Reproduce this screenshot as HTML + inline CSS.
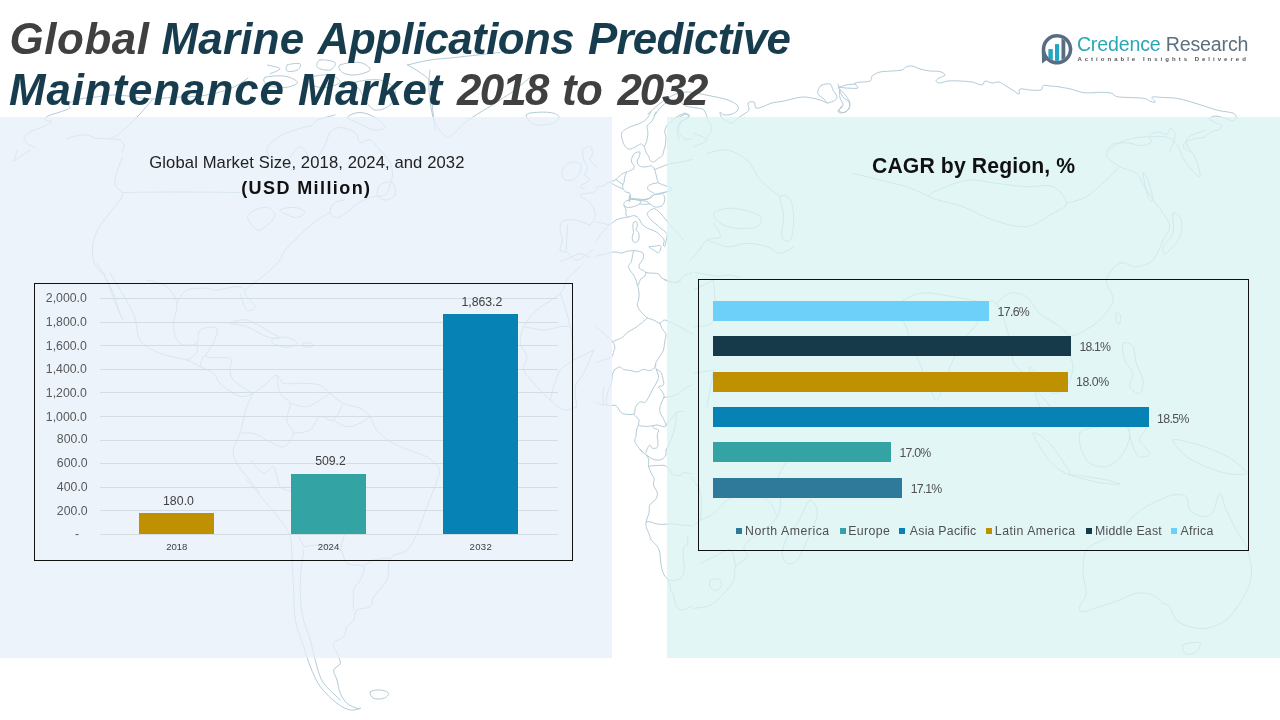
<!DOCTYPE html>
<html><head><meta charset="utf-8">
<style>
html,body{margin:0;padding:0;background:#fff;}
body{width:1280px;height:720px;position:relative;overflow:hidden;font-family:"Liberation Sans",sans-serif;}
.abs{position:absolute;}
#pl{left:0;top:117px;width:612px;height:541px;background:rgba(230,239,250,0.75);}
#pr{left:667px;top:117px;width:613px;height:541px;background:rgba(216,243,243,0.75);}
.tw{position:absolute;font-size:43.9px;line-height:51.2px;font-weight:bold;font-style:italic;color:#173c4e;white-space:nowrap;}
.tw.g{color:#404040;}
.t{position:absolute;white-space:nowrap;}
.c{transform:translateX(-50%);}
.ax{font-size:12.3px;color:#595959;}
.bar{position:absolute;}
.grid{position:absolute;left:100px;width:458px;height:1px;background:#d3dde2;}
.box{position:absolute;border:1.5px solid #111;box-sizing:border-box;}
</style></head><body>
<svg class="abs" id="map" style="left:0;top:0" width="1280" height="720" viewBox="0 0 1280 720"><path id="mappath" d="M13.8 161.2 L30.0 150.0 M122.5 157.5C121.7 159.6 118.8 165.4 117.5 170.0C116.2 174.6 114.2 180.8 115.0 185.0C115.8 189.2 123.3 190.4 122.5 195.0C121.7 199.6 114.2 206.7 110.0 212.5C105.8 218.3 100.4 224.2 97.5 230.0C94.6 235.8 92.9 241.7 92.5 247.5C92.1 253.3 92.9 260.4 95.0 265.0C97.1 269.6 103.3 273.3 105.0 275.0 M17.5 150.0 L13.8 161.2 M122.5 192.5C131.2 192.4 155.4 192.0 175.0 192.0C194.6 192.0 229.2 192.4 240.0 192.5 M96.7 263.3C98.3 266.1 103.3 272.8 106.7 280.0C110.0 287.2 113.9 300.0 116.7 306.7C119.4 313.3 122.8 318.9 123.3 320.0C123.9 321.1 121.7 317.8 120.0 313.3C118.3 308.9 116.1 300.0 113.3 293.3C110.6 286.7 105.0 276.7 103.3 273.3 M110.0 273.3C113.9 280.0 128.3 302.2 133.3 313.3C138.3 324.4 135.6 333.3 140.0 340.0C144.4 346.7 152.2 350.0 160.0 353.3C167.8 356.7 180.0 357.8 186.7 360.0C193.3 362.2 195.6 364.4 200.0 366.7C204.4 368.9 210.0 370.6 213.3 373.3C216.7 376.1 216.7 380.0 220.0 383.3C223.3 386.7 229.4 391.1 233.3 393.3C237.2 395.6 240.0 396.7 243.3 396.7C246.7 396.7 251.7 393.9 253.3 393.3 M146.7 280.0C150.0 281.1 161.7 282.8 166.7 286.7C171.7 290.6 175.6 296.7 176.7 303.3C177.8 310.0 172.8 320.0 173.3 326.7C173.9 333.3 176.1 340.6 180.0 343.3C183.9 346.1 193.3 345.6 196.7 343.3C200.0 341.1 196.7 332.5 200.0 330.0C203.3 327.5 214.4 326.1 216.7 328.3C218.9 330.6 215.0 338.6 213.3 343.3C211.7 348.1 203.9 354.2 206.7 356.7C209.4 359.2 226.1 356.1 230.0 358.3C233.9 360.6 229.4 366.4 230.0 370.0C230.6 373.6 230.6 376.7 233.3 380.0C236.1 383.3 243.3 387.8 246.7 390.0C250.0 392.2 252.2 392.8 253.3 393.3 M176.7 303.3C178.3 301.1 181.7 292.5 186.7 290.0C191.7 287.5 201.7 288.3 206.7 288.3C211.7 288.3 211.1 290.3 216.7 290.0C222.2 289.7 235.0 285.6 240.0 286.7C245.0 287.8 244.2 293.3 246.7 296.7C249.2 300.0 255.0 304.4 255.0 306.7C255.0 308.9 249.2 312.2 246.7 310.0C244.2 307.8 241.1 296.1 240.0 293.3 M230.0 323.3C230.0 322.2 240.6 318.9 246.7 320.0C252.8 321.1 261.1 326.9 266.7 330.0C272.2 333.1 280.0 337.2 280.0 338.3C280.0 339.4 272.2 338.6 266.7 336.7C261.1 334.7 252.8 328.9 246.7 326.7C240.6 324.4 230.0 324.4 230.0 323.3Z M273.3 338.3C275.6 337.3 282.8 336.5 286.7 337.3C290.6 338.2 296.7 341.7 296.7 343.3C296.7 345.0 290.6 347.3 286.7 347.3C282.8 347.3 275.6 344.8 273.3 343.3C271.1 341.8 271.1 339.3 273.3 338.3Z M303.3 343.3C304.7 342.8 310.3 342.8 311.7 343.3C313.1 343.9 313.1 346.1 311.7 346.7C310.3 347.2 304.7 347.2 303.3 346.7C301.9 346.1 301.9 343.9 303.3 343.3Z M253.3 393.3C255.6 391.7 262.8 386.4 266.7 383.3C270.6 380.3 273.9 375.0 276.7 375.0C279.4 375.0 279.4 381.9 283.3 383.3C287.2 384.7 293.9 383.1 300.0 383.3C306.1 383.6 315.0 383.3 320.0 385.0C325.0 386.7 326.1 390.3 330.0 393.3C333.9 396.4 338.3 400.8 343.3 403.3C348.3 405.8 355.6 406.1 360.0 408.3C364.4 410.6 367.2 413.1 370.0 416.7C372.8 420.3 372.8 425.6 376.7 430.0C380.6 434.4 385.0 438.9 393.3 443.3C401.7 447.8 421.1 454.4 426.7 456.7 M253.3 393.3C252.2 395.6 248.3 402.2 246.7 406.7C245.0 411.1 244.4 415.6 243.3 420.0C242.2 424.4 241.7 428.3 240.0 433.3C238.3 438.3 233.9 445.0 233.3 450.0C232.8 455.0 234.4 458.9 236.7 463.3C238.9 467.8 242.8 471.7 246.7 476.7C250.6 481.7 257.8 490.6 260.0 493.3 M276.7 375.0C277.2 378.1 277.8 388.6 280.0 393.3C282.2 398.1 288.9 398.9 290.0 403.3C291.1 407.8 286.1 415.0 286.7 420.0C287.2 425.0 293.9 428.9 293.3 433.3C292.8 437.8 287.8 445.6 283.3 446.7C278.9 447.8 271.7 442.2 266.7 440.0C261.7 437.8 257.8 434.4 253.3 433.3C248.9 432.2 242.2 433.3 240.0 433.3 M290.0 403.3C292.8 403.9 301.7 407.2 306.7 406.7C311.7 406.1 316.1 402.2 320.0 400.0C323.9 397.8 328.3 394.4 330.0 393.3 M293.3 433.3C296.1 432.8 305.6 432.8 310.0 430.0C314.4 427.2 316.1 418.3 320.0 416.7C323.9 415.0 329.4 422.2 333.3 420.0C337.2 417.8 341.7 406.1 343.3 403.3 M333.3 420.0C335.6 421.1 342.2 426.1 346.7 426.7C351.1 427.2 356.1 425.0 360.0 423.3C363.9 421.7 368.3 417.8 370.0 416.7 M200.0 366.7C200.6 365.0 202.2 358.3 203.3 356.7C204.4 355.0 206.1 356.7 206.7 356.7 M186.7 360.0C188.3 358.9 195.0 356.1 196.7 353.3C198.3 350.6 196.7 345.0 196.7 343.3 M247.0 480.0C249.8 483.3 258.1 493.3 263.7 500.0C269.2 506.7 275.9 513.9 280.3 520.0C284.8 526.1 288.4 530.0 290.3 536.7C292.3 543.3 291.4 551.1 292.0 560.0C292.6 568.9 293.1 580.0 293.7 590.0C294.2 600.0 293.7 610.6 295.3 620.0C297.0 629.4 301.2 638.9 303.7 646.7C306.2 654.4 307.6 660.0 310.3 666.7C313.1 673.3 315.9 680.6 320.3 686.7C324.8 692.8 332.0 699.4 337.0 703.3C342.0 707.2 346.4 709.2 350.3 710.0C354.2 710.8 358.7 708.6 360.3 708.3 M303.7 550.0C303.1 555.0 300.6 569.4 300.3 580.0C300.1 590.6 300.3 603.3 302.0 613.3C303.7 623.3 307.8 631.1 310.3 640.0C312.8 648.9 314.8 659.4 317.0 666.7C319.2 673.9 319.8 677.8 323.7 683.3C327.6 688.9 337.6 697.2 340.3 700.0 M427.0 456.7C428.4 457.8 433.2 461.1 435.3 463.3C437.4 465.6 439.3 467.5 439.7 470.0C440.1 472.5 438.7 475.0 437.7 478.3C436.7 481.7 435.4 485.3 433.7 490.0C431.9 494.7 429.8 499.4 427.0 506.7C424.2 513.9 420.3 526.1 417.0 533.3C413.7 540.6 411.4 545.8 407.0 550.0C402.6 554.2 393.7 553.3 390.3 558.3C387.0 563.3 389.8 573.6 387.0 580.0C384.2 586.4 376.4 592.2 373.7 596.7C370.9 601.1 373.1 604.4 370.3 606.7C367.6 608.9 359.8 607.8 357.0 610.0C354.2 612.2 355.3 617.2 353.7 620.0C352.0 622.8 348.7 623.9 347.0 626.7C345.3 629.4 345.9 633.9 343.7 636.7C341.4 639.4 334.8 640.6 333.7 643.3C332.6 646.1 335.9 650.0 337.0 653.3C338.1 656.7 340.9 660.6 340.3 663.3C339.8 666.1 334.2 667.2 333.7 670.0C333.1 672.8 335.9 676.1 337.0 680.0C338.1 683.9 338.7 689.4 340.3 693.3C342.0 697.2 344.2 700.8 347.0 703.3C349.8 705.8 354.8 707.5 357.0 708.3C359.2 709.2 359.8 708.3 360.3 708.3 M303.7 546.7C307.0 546.4 317.6 544.4 323.7 545.0C329.8 545.6 336.4 546.9 340.3 550.0C344.2 553.1 343.1 560.6 347.0 563.3C350.9 566.1 361.4 563.9 363.7 566.7C365.9 569.4 362.0 576.1 360.3 580.0C358.7 583.9 354.8 585.0 353.7 590.0C352.6 595.0 353.7 606.7 353.7 610.0 M390.3 558.3C387.6 558.6 378.1 558.6 373.7 560.0C369.2 561.4 365.3 565.6 363.7 566.7 M303.7 546.7C302.6 543.9 297.6 536.1 297.0 530.0C296.4 523.9 300.9 516.1 300.3 510.0C299.8 503.9 297.0 497.2 293.7 493.3C290.3 489.4 283.7 491.1 280.3 486.7C277.0 482.2 276.4 468.9 273.7 466.7C270.9 464.4 267.6 474.4 263.7 473.3C259.8 472.2 252.6 462.2 250.3 460.0 M340.3 550.0C341.4 546.7 343.7 535.0 347.0 530.0C350.3 525.0 358.1 525.0 360.3 520.0C362.6 515.0 363.7 505.0 360.3 500.0C357.0 495.0 347.0 492.2 340.3 490.0C333.7 487.8 325.9 488.9 320.3 486.7C314.8 484.4 311.4 475.6 307.0 476.7C302.6 477.8 295.9 490.6 293.7 493.3 M370.3 691.7C371.4 690.3 377.3 689.7 380.3 690.0C383.4 690.3 388.1 691.9 388.7 693.3C389.2 694.7 386.2 697.5 383.7 698.3C381.2 699.2 375.9 699.4 373.7 698.3C371.4 697.2 369.2 693.1 370.3 691.7Z M430.0 70.0C429.8 72.5 428.8 80.0 428.8 85.0C428.8 90.0 429.4 95.0 430.0 100.0C430.6 105.0 431.2 110.4 432.5 115.0C433.8 119.6 435.0 123.8 437.5 127.5C440.0 131.2 444.6 136.7 447.5 137.5C450.4 138.3 452.1 135.0 455.0 132.5C457.9 130.0 460.8 125.8 465.0 122.5C469.2 119.2 475.4 115.4 480.0 112.5C484.6 109.6 489.2 107.1 492.5 105.0C495.8 102.9 496.2 102.5 500.0 100.0C503.8 97.5 510.0 93.8 515.0 90.0C520.0 86.2 527.5 79.6 530.0 77.5 M526.2 115.0C526.7 113.1 531.0 112.9 535.0 112.5C539.0 112.1 546.0 111.9 550.0 112.5C554.0 113.1 557.9 114.6 558.8 116.2C559.6 117.9 557.7 121.0 555.0 122.5C552.3 124.0 546.2 124.8 542.5 125.0C538.8 125.2 535.2 125.4 532.5 123.8C529.8 122.1 525.8 116.9 526.2 115.0Z M562.5 170.0C563.5 167.3 567.1 163.5 570.0 162.5C572.9 161.5 578.3 162.1 580.0 163.8C581.7 165.4 581.2 169.8 580.0 172.5C578.8 175.2 575.2 179.0 572.5 180.0C569.8 181.0 565.4 180.4 563.8 178.8C562.1 177.1 561.5 172.7 562.5 170.0Z M582.5 150.0C583.8 149.4 588.3 145.6 590.0 146.2C591.7 146.9 592.5 151.5 592.5 153.8C592.5 156.0 589.2 157.7 590.0 160.0C590.8 162.3 596.2 166.2 597.5 167.5 M585.0 188.8C584.2 188.3 579.2 187.7 580.0 186.2C580.8 184.8 589.2 181.9 590.0 180.0C590.8 178.1 585.4 177.1 585.0 175.0C584.6 172.9 587.7 170.0 587.5 167.5C587.3 165.0 584.6 162.9 583.8 160.0C582.9 157.1 582.7 151.7 582.5 150.0 M590.0 225.0C590.6 224.2 592.9 222.1 593.8 220.0C594.6 217.9 595.6 215.4 595.0 212.5C594.4 209.6 592.5 205.4 590.0 202.5C587.5 199.6 579.6 196.7 580.0 195.0C580.4 193.3 589.6 193.5 592.5 192.5C595.4 191.5 596.7 189.4 597.5 188.8 M590.0 225.0C587.5 224.2 579.6 220.6 575.0 220.0C570.4 219.4 565.0 219.6 562.5 221.2C560.0 222.9 560.0 226.9 560.0 230.0C560.0 233.1 562.5 236.7 562.5 240.0C562.5 243.3 559.2 247.9 560.0 250.0C560.8 252.1 565.0 250.8 567.5 252.5C570.0 254.2 572.5 259.2 575.0 260.0C577.5 260.8 579.6 259.2 582.5 257.5C585.4 255.8 590.8 251.2 592.5 250.0 M567.5 225.0 L566.2 250.0 M560.0 261.2C561.7 260.6 566.7 258.8 570.0 257.5C573.3 256.2 576.7 253.8 580.0 253.8C583.3 253.8 588.3 256.9 590.0 257.5 M695.0 272.5C696.2 272.7 698.8 273.1 702.5 273.8C706.2 274.4 712.9 276.0 717.5 276.2C722.1 276.5 726.2 274.8 730.0 275.0C733.8 275.2 738.3 277.1 740.0 277.5 M693.7 290.0 L713.7 280.0 M593.7 350.0 L573.7 360.0 M583.7 263.3C580.9 266.1 570.9 275.0 567.0 280.0C563.1 285.0 565.3 288.3 560.3 293.3C555.3 298.3 543.1 304.4 537.0 310.0C530.9 315.6 526.4 321.1 523.7 326.7C520.9 332.2 519.8 338.3 520.3 343.3C520.9 348.3 526.4 352.2 527.0 356.7C527.6 361.1 522.0 365.0 523.7 370.0C525.3 375.0 532.6 381.7 537.0 386.7C541.4 391.7 545.9 396.1 550.3 400.0C554.8 403.9 559.2 408.9 563.7 410.0C568.1 411.1 574.8 407.2 577.0 406.7 M573.7 360.0C571.4 361.7 563.7 365.6 560.3 370.0C557.0 374.4 555.3 381.7 553.7 386.7C552.0 391.7 550.9 397.8 550.3 400.0 M573.7 360.0C573.1 354.4 572.6 337.8 570.3 326.7C568.1 315.6 562.0 298.9 560.3 293.3 M523.7 326.7C527.0 327.2 537.6 330.0 543.7 330.0C549.8 330.0 555.9 327.2 560.3 326.7C564.8 326.1 568.7 326.7 570.3 326.7 M577.0 406.7C576.7 403.3 574.2 392.2 575.3 386.7C576.4 381.1 580.6 379.4 583.7 373.3C586.7 367.2 592.0 353.9 593.7 350.0 M693.7 326.7C697.0 325.6 710.3 327.8 713.7 320.0C717.0 312.2 713.7 286.7 713.7 280.0 M693.7 373.3 L713.7 370.0 M707.0 406.7 L713.7 370.0 M694.0 608.3C696.8 607.8 705.7 607.5 710.7 605.0C715.7 602.5 720.1 597.5 724.0 593.3C727.9 589.2 732.1 584.4 734.0 580.0C735.9 575.6 733.4 570.6 735.7 566.7C737.9 562.8 745.9 560.0 747.3 556.7C748.7 553.3 742.9 550.0 744.0 546.7C745.1 543.3 750.1 540.0 754.0 536.7C757.9 533.3 763.4 530.0 767.3 526.7C771.2 523.3 775.1 521.1 777.3 516.7C779.6 512.2 780.7 506.1 780.7 500.0C780.7 493.9 776.2 486.7 777.3 480.0C778.4 473.3 785.7 463.3 787.3 460.0 M694.0 525.0 L700.7 520.0 M700.7 563.3C702.9 562.2 709.0 558.9 714.0 556.7C719.0 554.4 727.1 548.3 730.7 550.0C734.3 551.7 734.8 563.9 735.7 566.7 M710.7 580.0C712.2 578.8 717.2 578.3 719.0 579.3C720.8 580.3 721.9 584.1 721.3 586.0C720.8 587.9 717.6 590.6 715.7 590.7C713.8 590.8 710.8 588.4 710.0 586.7C709.2 584.9 709.2 581.2 710.7 580.0Z M810.7 500.0C812.9 500.6 817.9 506.7 817.3 513.3C816.8 520.0 810.7 532.2 807.3 540.0C804.0 547.8 800.7 556.1 797.3 560.0C794.0 563.9 789.8 564.4 787.3 563.3C784.8 562.2 782.3 557.8 782.3 553.3C782.3 548.9 784.8 541.7 787.3 536.7C789.8 531.7 794.6 527.8 797.3 523.3C800.1 518.9 801.8 513.9 804.0 510.0C806.2 506.1 808.4 499.4 810.7 500.0Z M700.7 520.0C702.9 518.9 709.6 516.7 714.0 513.3C718.4 510.0 721.8 503.3 727.3 500.0C732.9 496.7 740.7 493.3 747.3 493.3C754.0 493.3 762.3 496.1 767.3 500.0C772.3 503.9 775.7 513.9 777.3 516.7 M690.7 476.7C692.3 479.4 699.0 486.1 700.7 493.3C702.3 500.6 700.7 515.6 700.7 520.0 M693.7 133.3C695.9 134.4 707.0 137.8 707.0 140.0C707.0 142.2 695.9 145.6 693.7 146.7 M713.7 213.3C714.8 210.8 722.0 208.9 727.0 208.3C732.0 207.8 738.1 208.6 743.7 210.0C749.2 211.4 758.1 213.9 760.3 216.7C762.6 219.4 760.9 224.7 757.0 226.7C753.1 228.6 743.1 228.9 737.0 228.3C730.9 227.8 724.2 225.8 720.3 223.3C716.4 220.8 712.6 215.8 713.7 213.3Z M780.3 196.7C781.4 193.9 788.1 196.1 790.3 200.0C792.6 203.9 793.7 213.3 793.7 220.0C793.7 226.7 792.3 237.2 790.3 240.0C788.4 242.8 783.1 240.6 782.0 236.7C780.9 232.8 783.9 223.3 783.7 216.7C783.4 210.0 779.2 199.4 780.3 196.7Z M707.0 153.3C710.3 152.8 720.3 148.9 727.0 150.0C733.7 151.1 741.4 155.0 747.0 160.0C752.6 165.0 754.8 173.9 760.3 180.0C765.9 186.1 777.0 193.9 780.3 196.7 M690.3 260.0C691.4 258.9 694.2 256.7 697.0 253.3C699.8 250.0 703.1 242.8 707.0 240.0C710.9 237.2 719.2 239.4 720.3 236.7C721.4 233.9 714.8 225.6 713.7 223.3 M707.0 240.0C710.3 241.1 720.3 246.1 727.0 246.7C733.7 247.2 740.3 243.3 747.0 243.3C753.7 243.3 761.4 245.0 767.0 246.7C772.6 248.3 775.9 253.3 780.3 253.3C784.8 253.3 791.4 247.8 793.7 246.7 M1206.3 130.0C1203.0 131.7 1188.0 135.0 1186.3 140.0C1184.7 145.0 1194.1 153.9 1196.3 160.0C1198.6 166.1 1201.3 176.1 1199.7 176.7C1198.0 177.2 1190.8 169.4 1186.3 163.3C1181.9 157.2 1178.6 144.4 1173.0 140.0C1167.4 135.6 1160.8 136.7 1153.0 136.7C1145.2 136.7 1134.1 137.2 1126.3 140.0C1118.6 142.8 1107.4 148.9 1106.3 153.3C1105.2 157.8 1114.7 163.3 1119.7 166.7C1124.7 170.0 1131.9 169.4 1136.3 173.3C1140.8 177.2 1141.9 183.3 1146.3 190.0C1150.8 196.7 1159.1 207.2 1163.0 213.3C1166.9 219.4 1169.7 222.2 1169.7 226.7C1169.7 231.1 1164.1 237.8 1163.0 240.0 M1143.0 173.3C1143.0 170.6 1146.3 175.6 1148.0 180.0C1149.7 184.4 1153.0 197.2 1153.0 200.0C1153.0 202.8 1149.7 201.1 1148.0 196.7C1146.3 192.2 1143.0 176.1 1143.0 173.3Z M1173.0 213.3C1174.4 211.1 1180.2 216.1 1181.3 220.0C1182.4 223.9 1182.2 231.1 1179.7 236.7C1177.2 242.2 1169.1 251.7 1166.3 253.3C1163.6 255.0 1161.9 250.0 1163.0 246.7C1164.1 243.3 1171.3 238.9 1173.0 233.3C1174.7 227.8 1171.6 215.6 1173.0 213.3Z M929.7 196.7C932.4 200.0 952.4 202.8 963.0 206.7C973.6 210.6 982.4 216.7 993.0 220.0C1003.6 223.3 1016.3 227.8 1026.3 226.7C1036.3 225.6 1046.3 217.2 1053.0 213.3C1059.7 209.4 1066.3 207.8 1066.3 203.3C1066.3 198.9 1059.7 189.4 1053.0 186.7C1046.3 183.9 1035.8 187.2 1026.3 186.7C1016.9 186.1 1005.8 184.4 996.3 183.3C986.9 182.2 978.0 179.4 969.7 180.0C961.3 180.6 953.0 183.9 946.3 186.7C939.7 189.4 926.9 193.3 929.7 196.7Z M853.0 173.3C857.4 174.4 870.8 177.8 879.7 180.0C888.6 182.2 898.0 183.9 906.3 186.7C914.7 189.4 925.8 195.0 929.7 196.7 M1066.3 203.3C1069.7 202.2 1079.7 200.6 1086.3 196.7C1093.0 192.8 1100.8 185.0 1106.3 180.0C1111.9 175.0 1117.4 168.9 1119.7 166.7 M1163.0 240.0C1161.3 243.3 1157.4 255.6 1153.0 260.0C1148.6 264.4 1141.9 266.1 1136.3 266.7C1130.8 267.2 1124.7 261.1 1119.7 263.3C1114.7 265.6 1107.4 273.9 1106.3 280.0C1105.2 286.1 1114.1 293.3 1113.0 300.0C1111.9 306.7 1105.2 314.4 1099.7 320.0C1094.1 325.6 1084.7 330.6 1079.7 333.3C1074.7 336.1 1071.9 334.4 1069.7 336.7C1067.4 338.9 1065.8 341.7 1066.3 346.7C1066.9 351.7 1073.0 360.0 1073.0 366.7C1073.0 373.3 1069.7 382.2 1066.3 386.7C1063.0 391.1 1056.9 394.4 1053.0 393.3C1049.1 392.2 1046.3 383.9 1043.0 380.0C1039.7 376.1 1035.2 371.7 1033.0 370.0C1030.8 368.3 1028.6 363.9 1029.7 370.0C1030.8 376.1 1035.8 397.2 1039.7 406.7C1043.6 416.1 1051.3 426.7 1053.0 426.7C1054.7 426.7 1053.0 413.3 1049.7 406.7C1046.3 400.0 1038.0 392.8 1033.0 386.7C1028.0 380.6 1023.0 374.4 1019.7 370.0C1016.3 365.6 1015.2 367.2 1013.0 360.0C1010.8 352.8 1009.1 336.1 1006.3 326.7C1003.6 317.2 999.7 307.2 996.3 303.3C993.0 299.4 989.1 300.6 986.3 303.3C983.6 306.1 983.0 314.4 979.7 320.0C976.3 325.6 970.8 330.0 966.3 336.7C961.9 343.3 956.9 351.7 953.0 360.0C949.1 368.3 945.8 380.0 943.0 386.7C940.2 393.3 939.1 401.1 936.3 400.0C933.6 398.9 930.2 388.9 926.3 380.0C922.4 371.1 916.9 356.7 913.0 346.7C909.1 336.7 906.3 326.7 903.0 320.0C899.7 313.3 898.0 309.4 893.0 306.7C888.0 303.9 879.7 303.3 873.0 303.3C866.3 303.3 856.3 306.1 853.0 306.7 M1116.3 313.3C1117.0 312.2 1119.8 313.3 1120.3 315.0C1120.9 316.7 1120.3 322.2 1119.7 323.3C1119.0 324.4 1116.9 323.3 1116.3 321.7C1115.8 320.0 1115.7 314.4 1116.3 313.3Z M1123.0 343.3C1124.4 341.1 1130.8 343.3 1133.0 346.7C1135.2 350.0 1134.7 357.8 1136.3 363.3C1138.0 368.9 1142.4 375.0 1143.0 380.0C1143.6 385.0 1141.9 392.2 1139.7 393.3C1137.4 394.4 1130.8 390.0 1129.7 386.7C1128.6 383.3 1133.8 377.8 1133.0 373.3C1132.2 368.9 1126.3 365.0 1124.7 360.0C1123.0 355.0 1121.6 345.6 1123.0 343.3Z M1079.7 433.3C1081.9 427.8 1093.0 428.3 1099.7 426.7C1106.3 425.0 1114.7 422.2 1119.7 423.3C1124.7 424.4 1129.1 428.3 1129.7 433.3C1130.2 438.3 1126.9 447.8 1123.0 453.3C1119.1 458.9 1112.4 465.6 1106.3 466.7C1100.2 467.8 1090.8 465.6 1086.3 460.0C1081.9 454.4 1077.4 438.9 1079.7 433.3Z M1033.0 433.3C1033.0 430.6 1041.9 436.1 1046.3 440.0C1050.8 443.9 1055.8 451.1 1059.7 456.7C1063.6 462.2 1069.7 471.1 1069.7 473.3C1069.7 475.6 1063.6 472.8 1059.7 470.0C1055.8 467.2 1050.8 462.8 1046.3 456.7C1041.9 450.6 1033.0 436.1 1033.0 433.3Z M1069.7 475.0C1067.4 474.0 1080.2 475.8 1086.3 476.7C1092.4 477.5 1100.8 478.8 1106.3 480.0C1111.9 481.2 1120.8 483.6 1119.7 484.0C1118.6 484.4 1108.0 484.2 1099.7 482.7C1091.3 481.2 1071.9 476.0 1069.7 475.0Z M1129.7 426.7C1131.9 423.3 1144.7 424.4 1146.3 426.7C1148.0 428.9 1139.1 435.6 1139.7 440.0C1140.2 444.4 1149.7 450.6 1149.7 453.3C1149.7 456.1 1142.4 457.8 1139.7 456.7C1136.9 455.6 1134.7 451.7 1133.0 446.7C1131.3 441.7 1127.4 430.0 1129.7 426.7Z M1173.0 440.0C1174.1 437.8 1186.3 441.7 1193.0 443.3C1199.7 445.0 1206.3 447.2 1213.0 450.0C1219.7 452.8 1227.4 456.1 1233.0 460.0C1238.6 463.9 1247.4 471.1 1246.3 473.3C1245.2 475.6 1233.0 474.4 1226.3 473.3C1219.7 472.2 1213.0 469.4 1206.3 466.7C1199.7 463.9 1191.9 461.1 1186.3 456.7C1180.8 452.2 1171.9 442.2 1173.0 440.0Z M996.3 303.3C998.6 301.7 1004.7 294.4 1009.7 293.3C1014.7 292.2 1021.3 293.3 1026.3 296.7C1031.3 300.0 1034.1 308.3 1039.7 313.3C1045.2 318.3 1054.7 322.8 1059.7 326.7C1064.7 330.6 1068.0 335.0 1069.7 336.7 M893.0 306.7C897.4 304.4 909.7 295.0 919.7 293.3C929.7 291.7 941.9 295.0 953.0 296.7C964.1 298.3 980.8 302.2 986.3 303.3 M1086.3 550.0C1089.7 544.4 1097.4 543.3 1103.0 540.0C1108.6 536.7 1114.7 533.9 1119.7 530.0C1124.7 526.1 1128.6 520.6 1133.0 516.7C1137.4 512.8 1141.9 509.4 1146.3 506.7C1150.8 503.9 1155.2 501.9 1159.7 500.0C1164.1 498.1 1168.6 495.6 1173.0 495.0C1177.4 494.4 1183.6 494.2 1186.3 496.7C1189.1 499.2 1186.9 506.7 1189.7 510.0C1192.4 513.3 1199.1 516.4 1203.0 516.7C1206.9 516.9 1210.2 515.6 1213.0 511.7C1215.8 507.8 1217.4 493.6 1219.7 493.3C1221.9 493.1 1223.6 503.9 1226.3 510.0C1229.1 516.1 1233.0 523.9 1236.3 530.0C1239.7 536.1 1243.8 540.6 1246.3 546.7C1248.8 552.8 1250.8 560.6 1251.3 566.7C1251.9 572.8 1251.6 577.2 1249.7 583.3C1247.7 589.4 1243.6 597.2 1239.7 603.3C1235.8 609.4 1231.9 615.8 1226.3 620.0C1220.8 624.2 1212.4 627.2 1206.3 628.3C1200.2 629.4 1194.7 628.1 1189.7 626.7C1184.7 625.3 1179.7 623.3 1176.3 620.0C1173.0 616.7 1171.9 609.4 1169.7 606.7C1167.4 603.9 1165.8 605.3 1163.0 603.3C1160.2 601.4 1157.4 596.7 1153.0 595.0C1148.6 593.3 1141.9 592.5 1136.3 593.3C1130.8 594.2 1125.8 597.8 1119.7 600.0C1113.6 602.2 1105.8 604.7 1099.7 606.7C1093.6 608.6 1086.3 611.7 1083.0 611.7C1079.7 611.7 1079.1 609.7 1079.7 606.7C1080.2 603.6 1085.8 598.9 1086.3 593.3C1086.9 587.8 1083.0 580.6 1083.0 573.3C1083.0 566.1 1083.0 555.6 1086.3 550.0Z M1183.0 645.0C1185.2 643.1 1197.4 641.6 1199.7 642.7C1201.9 643.8 1198.6 649.8 1196.3 651.7C1194.1 653.6 1188.6 655.1 1186.3 654.0C1184.1 652.9 1180.8 646.9 1183.0 645.0Z M407.5 65.0C411.2 64.2 422.1 61.2 430.0 60.0C437.9 58.8 443.3 58.8 455.0 57.5C466.7 56.2 492.5 53.3 500.0 52.5 M407.5 65.0C409.6 66.2 416.2 69.6 420.0 72.5C423.8 75.4 427.9 76.7 430.0 82.5C432.1 88.3 431.7 99.6 432.5 107.5C433.3 115.4 434.6 126.2 435.0 130.0 M267.5 65.0C269.6 65.6 279.6 67.3 280.0 68.8C280.4 70.2 271.7 72.9 270.0 73.8 M287.5 65.0C289.6 63.8 298.3 62.9 300.0 63.8C301.7 64.6 299.6 68.8 297.5 70.0C295.4 71.2 289.2 72.1 287.5 71.2C285.8 70.4 285.4 66.2 287.5 65.0Z M320.0 60.0C322.9 59.2 333.3 60.8 335.0 62.5C336.7 64.2 332.9 69.2 330.0 70.0C327.1 70.8 319.2 69.2 317.5 67.5C315.8 65.8 317.1 60.8 320.0 60.0Z M265.0 77.5C267.9 76.0 279.6 75.4 285.0 76.2C290.4 77.1 297.5 80.6 297.5 82.5C297.5 84.4 290.0 87.1 285.0 87.5C280.0 87.9 270.8 86.7 267.5 85.0C264.2 83.3 262.1 79.0 265.0 77.5Z M340.0 65.0C342.9 63.3 355.0 61.7 360.0 62.5C365.0 63.3 370.8 67.9 370.0 70.0C369.2 72.1 359.6 74.6 355.0 75.0C350.4 75.4 345.0 74.2 342.5 72.5C340.0 70.8 337.1 66.7 340.0 65.0Z M310.0 77.5C312.9 75.8 325.0 74.2 330.0 75.0C335.0 75.8 340.8 80.4 340.0 82.5C339.2 84.6 329.6 87.1 325.0 87.5C320.4 87.9 315.0 86.7 312.5 85.0C310.0 83.3 307.1 79.2 310.0 77.5Z M355.0 82.5C358.3 80.8 373.3 78.8 380.0 80.0C386.7 81.2 393.3 85.8 395.0 90.0C396.7 94.2 393.3 101.7 390.0 105.0C386.7 108.3 379.2 110.8 375.0 110.0C370.8 109.2 367.5 103.3 365.0 100.0C362.5 96.7 361.7 92.9 360.0 90.0C358.3 87.1 351.7 84.2 355.0 82.5Z M651.0 112.0C650.2 113.2 648.1 117.5 646.0 119.5C643.9 121.5 641.2 122.6 638.5 123.9C635.8 125.1 632.5 125.6 629.8 127.0C627.0 128.4 623.6 130.3 622.2 132.0C620.9 133.7 621.3 134.9 621.6 137.0C621.9 139.1 623.2 142.6 624.1 144.5C625.1 146.4 626.1 147.5 627.2 148.2C628.4 149.0 629.3 149.3 631.0 148.9C632.7 148.5 635.6 146.6 637.2 145.8C638.9 144.9 639.9 143.9 641.0 143.9C642.1 143.9 643.2 146.2 644.1 145.8C645.1 145.3 646.0 143.5 646.6 141.4C647.2 139.3 647.8 135.9 647.9 133.2C648.0 130.6 646.5 127.8 647.2 125.8C648.0 123.7 650.8 123.0 652.2 120.8C653.7 118.5 655.4 113.5 656.0 112.0 M644.1 145.8C644.4 146.8 645.2 150.1 646.0 152.0C646.8 153.9 648.5 155.6 649.1 157.0C649.8 158.4 649.0 159.3 649.8 160.1C650.5 161.0 652.0 162.3 653.5 162.0C655.0 161.7 657.0 159.3 658.5 158.2C660.0 157.2 661.3 157.2 662.2 155.8C663.2 154.3 663.6 151.4 664.1 149.5C664.6 147.6 665.1 146.6 665.4 144.5C665.7 142.4 666.1 139.3 666.0 137.0C665.9 134.7 664.4 132.8 664.8 130.8C665.1 128.7 666.4 126.4 667.9 124.5C669.3 122.6 671.7 121.0 673.5 119.5C675.3 118.0 676.6 116.8 678.5 115.8C680.4 114.7 683.7 113.7 684.8 113.2 M684.8 113.2C685.6 113.7 690.0 114.7 689.8 115.8C689.5 116.8 685.2 118.0 683.5 119.5C681.8 121.0 680.6 122.6 679.8 124.5C678.9 126.4 678.1 128.7 678.5 130.8C678.9 132.8 680.8 135.5 682.2 137.0C683.7 138.5 685.6 139.2 687.2 139.5C688.9 139.8 691.2 139.0 692.0 138.9 M633.5 168.9C633.6 168.4 634.4 166.9 634.1 165.8C633.8 164.6 631.9 163.5 631.6 162.0C631.3 160.5 631.7 158.5 632.2 157.0C632.8 155.5 633.5 154.1 634.8 153.2C636.0 152.4 639.0 151.4 639.8 152.0C640.5 152.6 639.5 155.5 639.1 157.0C638.7 158.5 637.4 159.4 637.2 160.8C637.1 162.1 637.6 164.1 638.5 165.1C639.4 166.2 641.2 166.8 642.9 167.0C644.5 167.2 647.0 166.6 648.5 166.4C650.0 166.2 650.6 165.2 651.6 165.8C652.7 166.3 654.2 168.9 654.8 169.5 M633.5 168.9C632.7 169.3 629.6 170.9 628.5 171.4C627.4 171.9 627.9 171.5 626.6 172.0C625.4 172.5 622.8 173.2 621.0 174.5C619.2 175.8 617.9 178.2 616.0 179.5C614.1 180.8 611.8 181.0 609.8 182.0C607.7 183.0 605.8 184.9 603.5 185.8C601.2 186.6 597.2 186.8 596.0 187.0 M626.6 172.0C626.3 172.8 625.2 175.3 624.8 177.0C624.3 178.7 624.4 180.8 624.1 182.0C623.8 183.2 623.1 183.4 622.9 184.5C622.7 185.6 622.4 187.6 622.9 188.9C623.4 190.1 624.9 191.3 626.0 192.0C627.1 192.7 629.0 192.2 629.8 193.2C630.5 194.3 630.5 196.8 630.4 198.2C630.3 199.7 629.3 201.4 629.1 202.0 M609.8 182.0C610.8 182.6 613.8 184.6 616.0 185.8C618.2 186.9 621.7 188.4 622.9 188.9 M616.0 179.5 L622.9 184.5 M654.8 169.5C655.0 170.3 655.6 172.8 656.0 174.5C656.4 176.2 656.9 178.1 657.2 179.5C657.6 180.9 658.7 181.9 657.9 182.6C657.0 183.4 653.9 183.2 652.2 183.9C650.6 184.5 648.5 185.3 647.9 186.4C647.2 187.4 647.7 189.1 648.5 190.1C649.3 191.2 651.8 191.9 652.9 192.6C653.9 193.4 654.4 194.2 654.8 194.5 M657.9 182.6C658.8 183.0 661.5 184.4 663.5 185.1C665.5 185.9 668.3 186.3 669.8 187.0C671.2 187.7 672.9 188.7 672.2 189.5C671.6 190.3 668.1 191.4 666.0 192.0C663.9 192.6 661.6 192.8 659.8 193.2C657.9 193.7 655.6 194.3 654.8 194.5 M654.8 169.5C655.8 169.1 658.8 167.8 661.0 167.0C663.2 166.2 665.8 165.1 667.9 164.5C670.0 163.9 671.3 163.7 673.5 163.2C675.7 162.8 677.9 162.6 681.0 162.0C684.1 161.4 690.2 159.9 692.0 159.5 M654.8 194.5C653.9 195.1 651.6 197.4 649.8 198.2C647.9 199.1 645.6 199.4 643.5 199.5C641.4 199.6 639.4 199.1 637.2 198.9C635.1 198.7 631.5 198.4 630.4 198.2 M654.8 194.5C655.8 194.4 659.1 194.3 661.0 193.9C662.9 193.5 665.2 192.3 666.0 192.0 M629.1 200.0C627.7 200.4 625.6 200.9 624.8 201.9C623.9 202.8 623.5 204.7 624.1 205.6C624.8 206.6 626.7 207.4 628.5 207.5C630.3 207.6 632.9 206.9 634.8 206.2C636.6 205.6 638.9 204.7 639.8 203.8C640.6 202.8 640.8 201.4 639.8 200.6C638.7 199.9 635.3 199.5 633.5 199.4C631.7 199.3 630.6 199.6 629.1 200.0Z M629.8 195.0 L629.1 200.0 M633.5 199.4C634.8 199.5 638.5 200.1 641.0 200.0C643.5 199.9 646.6 199.6 648.5 198.8C650.4 197.9 651.6 195.6 652.2 195.0 M639.8 200.6C640.8 200.7 644.3 200.7 646.0 201.2C647.7 201.8 648.3 202.8 649.8 203.8C651.2 204.7 652.9 206.5 654.8 206.9C656.6 207.3 659.4 207.0 661.0 206.2C662.6 205.5 663.5 204.0 664.1 202.5C664.8 201.0 664.9 198.8 664.8 197.5C664.6 196.2 663.7 195.4 663.5 195.0 M639.8 203.8C640.6 203.9 643.1 204.4 644.8 204.4C646.4 204.4 648.9 203.9 649.8 203.8 M624.1 205.6C624.4 206.4 625.7 208.4 626.0 210.0C626.3 211.6 625.6 213.9 626.0 215.0C626.4 216.1 627.2 216.8 628.5 216.9C629.8 217.0 632.0 215.6 633.5 215.6C635.0 215.6 636.2 216.1 637.2 216.9C638.3 217.6 638.9 218.8 639.8 220.0C640.6 221.2 641.0 223.0 642.2 224.4C643.5 225.7 645.6 227.2 647.2 228.1C648.9 229.1 650.6 229.3 652.2 230.0C653.9 230.7 655.8 231.5 657.2 232.5C658.7 233.5 659.9 235.0 661.0 236.2C662.1 237.5 663.7 238.5 664.1 240.0C664.5 241.5 663.4 244.0 663.5 245.0C663.6 246.0 664.3 246.9 664.8 246.2C665.2 245.6 665.6 242.9 666.0 241.2C666.4 239.6 667.2 237.7 667.2 236.2C667.2 234.8 667.0 233.8 666.0 232.5C665.0 231.2 662.5 230.0 661.0 228.8C659.5 227.5 658.7 226.2 657.2 225.0C655.8 223.8 653.6 222.5 652.2 221.2C650.9 220.0 650.0 218.8 649.1 217.5C648.3 216.2 647.1 214.9 647.2 213.8C647.4 212.6 648.5 211.5 649.8 210.6C651.0 209.8 652.9 208.2 654.8 208.8C656.6 209.3 659.1 211.9 661.0 213.8C662.9 215.6 664.3 217.9 666.0 220.0C667.7 222.1 669.1 224.2 671.0 226.2C672.9 228.3 675.2 230.2 677.2 232.5C679.3 234.8 682.5 238.8 683.5 240.0 M596.0 221.9C597.0 222.1 600.0 222.7 602.2 223.1C604.5 223.5 607.5 224.9 609.8 224.4C612.0 223.9 613.9 221.0 616.0 220.0C618.1 219.0 620.2 218.6 622.2 218.1C624.3 217.6 627.5 217.1 628.5 216.9 M609.8 224.4C608.7 225.5 605.4 229.1 603.5 231.2C601.6 233.4 599.8 235.6 598.5 237.5C597.2 239.4 596.4 241.7 596.0 242.5 M633.5 222.5C634.1 221.6 636.0 221.2 636.6 221.9C637.2 222.5 637.4 224.9 637.2 226.2C637.1 227.6 635.8 229.0 636.0 230.0C636.2 231.0 638.0 231.2 638.5 232.5C639.0 233.8 639.3 235.9 639.1 237.5C638.9 239.1 638.2 241.1 637.2 241.9C636.3 242.6 634.3 242.6 633.5 241.9C632.7 241.1 632.2 239.1 632.2 237.5C632.2 235.9 633.4 234.2 633.5 232.5C633.6 230.8 632.9 229.2 632.9 227.5C632.9 225.8 632.9 223.4 633.5 222.5Z M649.1 246.9C649.3 246.2 652.9 246.5 654.8 246.2C656.6 246.0 659.4 245.0 660.4 245.6C661.3 246.2 660.8 248.9 660.4 250.0C660.0 251.1 659.0 252.5 657.9 252.5C656.7 252.5 655.0 250.9 653.5 250.0C652.0 249.1 648.9 247.5 649.1 246.9Z M596.0 256.2C597.2 255.9 601.0 255.0 603.5 254.4C606.0 253.8 608.9 252.9 611.0 252.5C613.1 252.1 614.3 251.8 616.0 251.9C617.7 252.0 619.1 253.2 621.0 253.1C622.9 253.0 625.2 251.7 627.2 251.2C629.3 250.8 631.6 250.6 633.5 250.6C635.4 250.6 636.9 250.8 638.5 251.2C640.1 251.7 642.0 252.1 642.9 253.1C643.7 254.2 643.7 256.1 643.5 257.5C643.3 258.9 642.4 260.0 641.6 261.2C640.9 262.5 639.4 263.8 639.1 265.0C638.8 266.2 639.0 267.8 639.8 268.8C640.5 269.7 642.5 270.0 643.5 270.6C644.5 271.2 644.8 272.1 646.0 272.5C647.2 272.9 648.9 272.9 651.0 273.1C653.1 273.3 656.8 273.0 658.5 273.8C660.2 274.5 659.8 276.5 661.0 277.5C662.2 278.5 663.9 279.2 666.0 280.0C668.1 280.8 671.4 282.3 673.5 282.5C675.6 282.7 676.8 282.3 678.5 281.2C680.2 280.2 681.2 277.7 683.5 276.2C685.8 274.8 690.6 273.1 692.0 272.5 M633.5 250.6C633.3 251.8 632.7 255.5 632.2 257.5C631.8 259.5 631.6 261.1 631.0 262.5C630.4 263.9 628.7 264.4 628.5 265.6C628.3 266.9 628.9 268.4 629.8 270.0C630.6 271.6 632.5 273.3 633.5 275.0C634.5 276.7 635.4 278.3 636.0 280.0C636.6 281.7 637.0 284.2 637.2 285.0 M646.0 272.5C645.8 273.1 645.6 275.2 644.8 276.2C643.9 277.3 641.9 277.7 641.0 278.8C640.1 279.8 639.5 281.5 639.1 282.5C638.7 283.5 638.6 284.6 638.5 285.0 M637.2 285.0C637.4 285.2 637.6 284.8 637.9 286.2C638.2 287.7 639.0 291.5 639.1 293.8C639.2 296.0 638.8 298.1 638.5 300.0C638.2 301.9 636.9 303.1 637.2 305.0C637.6 306.9 639.1 309.5 640.4 311.2C641.6 313.0 643.6 314.5 644.8 315.6C645.9 316.8 646.8 317.7 647.2 318.1 M647.2 318.1C646.4 318.9 644.3 320.8 642.2 322.5C640.2 324.2 637.2 326.5 634.8 328.1C632.2 329.8 629.3 330.9 627.2 332.5C625.2 334.1 624.3 336.1 622.2 337.5C620.2 338.9 616.4 340.0 614.8 340.6C613.1 341.2 613.3 341.8 612.2 341.2C611.2 340.7 610.4 339.2 608.5 337.5C606.6 335.8 603.1 333.0 601.0 331.2C598.9 329.5 596.8 327.6 596.0 326.9 M647.2 318.1C648.3 318.4 651.4 319.2 653.5 320.0C655.6 320.8 658.0 323.1 659.8 323.1C661.5 323.1 662.2 320.1 664.1 320.0C666.0 319.9 668.2 321.2 671.0 322.5C673.8 323.8 677.5 325.6 681.0 327.5C684.5 329.4 690.2 332.7 692.0 333.8 M659.8 323.1C660.2 324.1 661.2 326.9 662.2 328.8C663.3 330.6 665.6 332.3 666.0 334.4C666.4 336.5 665.2 338.6 664.8 341.2C664.3 343.9 664.3 347.5 663.5 350.0C662.7 352.5 661.0 354.2 659.8 356.2C658.5 358.3 656.8 360.6 656.0 362.5C655.2 364.4 655.0 366.7 654.8 367.5 M612.2 341.2C612.7 342.1 614.5 344.4 614.8 346.2C615.0 348.1 614.1 350.6 613.5 352.5C612.9 354.4 612.7 356.2 611.0 357.5C609.3 358.8 606.0 359.2 603.5 360.0C601.0 360.8 597.2 362.1 596.0 362.5 M664.8 280.0C666.2 280.4 670.8 282.3 673.5 282.5C676.2 282.7 679.8 281.5 681.0 281.2 M614.8 369.4C615.6 369.0 618.3 366.9 619.8 366.9C621.2 366.9 621.6 368.8 623.5 369.4C625.4 370.0 628.7 370.2 631.0 370.6C633.3 371.0 635.2 372.1 637.2 371.9C639.3 371.7 641.4 369.6 643.5 369.4C645.6 369.2 647.9 370.9 649.8 370.6C651.6 370.3 653.7 368.4 654.8 367.5C655.8 366.6 655.8 365.4 656.0 365.0 M614.8 369.4C614.3 370.3 612.8 372.8 612.2 375.0C611.7 377.2 612.2 380.0 611.6 382.5C611.0 385.0 609.3 387.5 608.5 390.0C607.7 392.5 606.8 395.0 606.6 397.5C606.4 400.0 605.7 403.6 607.2 405.0C608.8 406.4 613.7 404.4 616.0 405.6C618.3 406.9 619.1 411.0 621.0 412.5C622.9 414.0 625.1 414.2 627.2 414.4C629.4 414.6 632.8 414.9 634.1 413.8C635.5 412.6 634.4 409.5 635.4 407.5C636.3 405.5 638.2 402.7 639.8 401.9C641.3 401.0 643.3 403.2 644.8 402.5C646.2 401.8 647.2 399.6 648.5 397.5C649.8 395.4 650.8 392.7 652.2 390.0C653.7 387.3 656.2 383.5 657.2 381.2C658.3 379.0 658.7 378.3 658.5 376.2C658.3 374.2 656.4 370.0 656.0 368.8 M656.0 368.8C656.8 369.4 659.9 370.8 661.0 372.5C662.1 374.2 662.5 376.7 662.9 378.8C663.3 380.8 664.2 383.6 663.5 385.0C662.8 386.4 658.9 386.0 658.5 386.9C658.1 387.7 660.1 388.4 661.0 390.0C661.9 391.6 664.1 394.0 664.1 396.2C664.1 398.5 661.7 401.2 661.0 403.8C660.3 406.2 659.3 408.8 659.8 411.2C660.2 413.8 662.5 416.5 663.5 418.8C664.5 421.0 665.9 423.6 666.0 425.0C666.1 426.4 665.6 426.9 664.1 426.9C662.7 426.9 659.6 425.1 657.2 425.0C654.9 424.9 652.0 426.0 649.8 426.2C647.5 426.5 645.4 426.5 643.5 426.2C641.6 426.0 639.2 426.0 638.5 425.0C637.8 424.0 639.8 421.6 639.1 420.0C638.5 418.4 635.6 416.7 634.8 415.6C633.9 414.6 634.2 414.1 634.1 413.8 M638.5 425.0C638.2 425.8 637.0 428.1 636.6 430.0C636.2 431.9 636.3 434.4 636.0 436.2C635.7 438.1 634.3 439.4 634.8 441.2C635.2 443.1 637.0 445.6 638.5 447.5C640.0 449.4 642.7 451.7 643.5 452.5 M653.5 425.6C653.5 426.0 652.7 427.4 653.5 428.1C654.3 428.9 657.9 428.9 658.5 430.0C659.1 431.1 657.4 433.1 657.2 435.0C657.1 436.9 657.9 439.2 657.9 441.2C657.9 443.3 658.2 446.4 657.2 447.5C656.3 448.6 653.5 448.5 652.2 448.1C651.0 447.7 650.6 444.9 649.8 445.0C648.9 445.1 647.9 447.5 647.2 448.8C646.6 450.0 646.2 451.9 646.0 452.5 M664.1 397.5C665.3 397.3 668.6 396.9 671.0 396.2C673.4 395.6 676.0 395.2 678.5 393.8C681.0 392.3 683.8 389.0 686.0 387.5C688.2 386.0 691.0 385.4 692.0 385.0 M666.0 425.0C666.8 424.0 669.1 420.8 671.0 418.8C672.9 416.7 675.2 413.8 677.2 412.5C679.3 411.2 682.5 411.5 683.5 411.2 M676.0 412.5C676.0 414.0 676.4 417.9 676.0 421.2C675.6 424.6 674.5 429.0 673.5 432.5C672.5 436.0 671.0 439.6 669.8 442.5C668.5 445.4 666.6 448.8 666.0 450.0 M603.5 387.5C603.4 389.2 602.9 394.6 602.9 397.5C602.9 400.4 603.4 403.8 603.5 405.0 M596.0 402.5C596.8 402.8 599.1 404.0 601.0 404.4C602.9 404.8 606.2 404.9 607.2 405.0 M639.8 450.0C640.6 450.6 643.3 452.3 644.8 453.8C646.2 455.2 647.9 456.7 648.5 458.8C649.1 460.8 648.1 464.0 648.5 466.2C648.9 468.5 650.1 470.4 651.0 472.5C651.9 474.6 653.7 476.7 654.1 478.8C654.5 480.8 653.0 482.7 653.5 485.0C654.0 487.3 656.8 490.2 657.2 492.5C657.7 494.8 657.2 496.7 656.0 498.8C654.8 500.8 650.9 502.7 649.8 505.0C648.6 507.3 649.6 510.0 649.1 512.5C648.6 515.0 647.1 517.7 646.6 520.0C646.1 522.3 645.7 524.2 646.0 526.2C646.3 528.3 647.7 530.2 648.5 532.5C649.3 534.8 650.6 538.8 651.0 540.0 M644.8 453.8C646.0 454.6 649.8 457.7 652.2 458.8C654.8 459.8 657.6 460.4 659.8 460.0C661.9 459.6 664.3 457.9 665.4 456.2C666.4 454.6 665.9 451.0 666.0 450.0 M648.5 466.2C649.8 466.1 653.3 465.7 656.0 465.6C658.7 465.5 662.5 464.9 664.8 465.6C667.0 466.4 668.3 468.4 669.8 470.0C671.2 471.6 671.6 474.2 673.5 475.0C675.4 475.8 679.3 475.4 681.0 475.0C682.7 474.6 681.7 472.7 683.5 472.5C685.3 472.3 690.6 473.5 692.0 473.8 M646.6 521.9C647.4 521.9 649.4 521.6 651.0 521.9C652.6 522.2 653.9 523.3 656.0 523.8C658.1 524.2 661.0 524.4 663.5 524.4C666.0 524.4 668.1 523.6 671.0 523.8C673.9 523.9 677.5 524.7 681.0 525.0C684.5 525.3 690.2 525.5 692.0 525.6 M651.0 540.0C651.2 540.2 651.2 540.2 652.2 541.2C653.3 542.3 656.0 544.4 657.2 546.2C658.5 548.1 659.2 550.2 659.8 552.5C660.3 554.8 660.1 557.5 660.4 560.0C660.7 562.5 661.0 565.0 661.6 567.5C662.2 570.0 663.1 573.0 664.1 575.0C665.2 577.0 666.9 577.7 667.9 579.4C668.8 581.0 669.2 583.0 669.8 585.0C670.3 587.0 670.4 589.6 671.0 591.2C671.6 592.9 672.9 593.3 673.5 595.0C674.1 596.7 674.1 599.2 674.8 601.2C675.4 603.3 676.0 606.0 677.2 607.5C678.5 609.0 680.4 610.0 682.2 610.0C684.1 610.0 686.9 608.1 688.5 607.5C690.1 606.9 691.4 606.5 692.0 606.2 M667.9 579.4C668.8 579.6 671.5 580.7 673.5 580.6C675.5 580.5 678.1 579.9 679.8 578.8C681.4 577.6 682.8 575.8 683.5 573.8C684.2 571.7 684.1 568.5 684.1 566.2C684.1 564.0 683.6 563.1 683.5 560.0C683.4 556.9 682.9 550.0 683.5 547.5C684.1 545.0 686.5 547.1 687.2 545.0C688.0 542.9 687.8 536.7 687.9 535.0 M648.0 114.0C649.7 112.5 654.7 107.7 658.0 105.0C661.3 102.3 665.0 99.8 668.0 98.0C671.0 96.2 673.0 95.0 676.0 94.0C679.0 93.0 682.7 92.2 686.0 92.0C689.3 91.8 692.7 92.5 696.0 93.0C699.3 93.5 702.7 94.3 706.0 95.0C709.3 95.7 712.3 96.2 716.0 97.0C719.7 97.8 724.5 98.7 728.0 100.0C731.5 101.3 735.3 103.3 737.0 105.0C738.7 106.7 738.8 108.5 738.0 110.0C737.2 111.5 734.3 113.2 732.0 114.0C729.7 114.8 726.0 115.3 724.0 115.0C722.0 114.7 720.3 111.5 720.0 112.0C719.7 112.5 720.7 116.3 722.0 118.0C723.3 119.7 726.3 121.2 728.0 122.0C729.7 122.8 730.3 123.7 732.0 123.0C733.7 122.3 736.0 119.5 738.0 118.0C740.0 116.5 742.2 115.3 744.0 114.0C745.8 112.7 748.3 111.8 749.0 110.0C749.7 108.2 747.2 104.3 748.0 103.0C748.8 101.7 752.7 101.2 754.0 102.0C755.3 102.8 754.7 107.2 756.0 108.0C757.3 108.8 759.3 107.8 762.0 107.0C764.7 106.2 768.3 104.0 772.0 103.0C775.7 102.0 780.7 101.7 784.0 101.0C787.3 100.3 789.0 99.7 792.0 99.0C795.0 98.3 798.7 97.2 802.0 97.0C805.3 96.8 809.0 97.5 812.0 98.0C815.0 98.5 817.5 99.2 820.0 100.0C822.5 100.8 825.8 102.5 827.0 103.0 M654.0 116.0C655.3 114.3 659.0 108.7 662.0 106.0C665.0 103.3 669.0 100.7 672.0 100.0C675.0 99.3 677.7 101.0 680.0 102.0C682.3 103.0 683.3 105.0 686.0 106.0C688.7 107.0 693.0 107.3 696.0 108.0C699.0 108.7 702.0 108.0 704.0 110.0C706.0 112.0 706.7 117.0 708.0 120.0C709.3 123.0 712.0 125.3 712.0 128.0C712.0 130.7 709.3 134.0 708.0 136.0C706.7 138.0 704.7 139.3 704.0 140.0 M678.0 118.0C679.3 117.3 684.3 114.0 686.0 114.0C687.7 114.0 689.0 116.7 688.0 118.0C687.0 119.3 681.8 120.0 680.0 122.0C678.2 124.0 677.2 127.0 677.0 130.0C676.8 133.0 678.7 138.3 679.0 140.0 M822.0 85.0C823.8 84.3 828.2 83.2 830.0 84.0C831.8 84.8 831.8 87.7 833.0 90.0C834.2 92.3 837.8 95.8 837.0 98.0C836.2 100.2 830.2 102.8 828.0 103.0C825.8 103.2 825.7 100.5 824.0 99.0C822.3 97.5 818.8 95.8 818.0 94.0C817.2 92.2 818.3 89.5 819.0 88.0C819.7 86.5 820.2 85.7 822.0 85.0Z M838.0 88.0C839.3 87.5 843.0 85.7 846.0 85.0C849.0 84.3 854.3 84.2 856.0 84.0 M840.0 90.0C841.0 89.7 844.3 93.7 846.0 96.0C847.7 98.3 850.0 101.3 850.0 104.0C850.0 106.7 847.8 110.8 846.0 112.0C844.2 113.2 839.5 112.2 839.0 111.0C838.5 109.8 842.8 107.2 843.0 105.0C843.2 102.8 840.5 100.5 840.0 98.0C839.5 95.5 839.0 90.3 840.0 90.0Z M838.0 84.0C838.2 84.5 838.7 85.7 839.0 87.0C839.3 88.3 839.2 90.2 840.0 92.0C840.8 93.8 842.5 96.3 844.0 98.0C845.5 99.7 848.2 100.2 849.0 102.0C849.8 103.8 850.2 107.2 849.0 109.0C847.8 110.8 843.8 112.7 842.0 113.0C840.2 113.3 838.0 112.2 838.0 111.0C838.0 109.8 841.3 106.8 842.0 106.0 M839.0 87.0C840.2 87.2 842.8 87.8 846.0 88.0C849.2 88.2 856.5 88.8 858.0 88.0C859.5 87.2 853.0 84.2 855.0 83.0C857.0 81.8 867.2 82.2 870.0 81.0C872.8 79.8 870.3 77.5 872.0 76.0C873.7 74.5 876.7 72.8 880.0 72.0C883.3 71.2 888.3 71.3 892.0 71.0C895.7 70.7 899.7 70.7 902.0 70.0C904.3 69.3 904.3 67.7 906.0 67.0C907.7 66.3 909.7 65.7 912.0 66.0C914.3 66.3 917.0 68.2 920.0 69.0C923.0 69.8 926.7 70.6 930.0 71.0C933.3 71.4 937.5 70.9 940.0 71.6C942.5 72.3 945.2 73.9 945.0 75.0C944.8 76.1 940.5 77.0 939.0 78.0C937.5 79.0 935.8 80.2 936.0 81.0C936.2 81.8 938.0 83.0 940.0 83.0C942.0 83.0 944.7 81.3 948.0 81.0C951.3 80.7 956.0 80.8 960.0 81.0C964.0 81.2 968.3 81.3 972.0 82.0C975.7 82.7 979.8 85.2 982.0 85.0C984.2 84.8 983.3 81.3 985.0 81.0C986.7 80.7 989.7 82.8 992.0 83.0C994.3 83.2 996.7 81.5 999.0 82.0C1001.3 82.5 1003.5 84.5 1006.0 86.0C1008.5 87.5 1011.8 89.7 1014.0 91.0C1016.2 92.3 1018.0 94.3 1019.0 94.0C1020.0 93.7 1018.2 89.7 1020.0 89.0C1021.8 88.3 1026.5 89.8 1030.0 90.0C1033.5 90.2 1038.8 90.7 1041.0 90.0C1043.2 89.3 1041.5 86.3 1043.0 85.6C1044.5 84.9 1047.2 85.8 1050.0 86.0C1052.8 86.2 1058.3 86.7 1060.0 86.8 M1060.0 87.2C1061.7 87.5 1066.3 88.0 1070.3 88.9C1074.3 89.8 1078.9 92.1 1084.1 92.7C1089.2 93.3 1096.7 92.3 1101.3 92.3C1105.8 92.4 1109.0 92.5 1111.6 93.2C1114.1 93.9 1113.9 95.9 1116.7 96.6C1119.6 97.4 1124.2 97.2 1128.8 97.5C1133.3 97.8 1140.5 97.6 1144.2 98.4C1147.9 99.1 1149.2 101.2 1151.1 101.8C1153.0 102.4 1155.3 102.6 1155.4 101.8C1155.5 101.0 1150.7 97.9 1152.0 97.2C1153.2 96.4 1159.0 97.3 1163.1 97.5C1167.3 97.7 1172.3 97.6 1176.9 98.4C1181.5 99.1 1186.0 100.5 1190.6 101.8C1195.2 103.1 1199.8 104.7 1204.4 106.1C1209.0 107.5 1214.1 109.4 1218.1 110.4C1222.1 111.4 1225.7 111.5 1228.4 112.1C1231.2 112.7 1233.2 112.8 1234.5 113.8C1235.7 114.8 1236.6 117.0 1236.2 118.1C1235.7 119.3 1233.7 120.7 1231.9 120.7C1230.0 120.7 1227.9 118.9 1225.0 118.1C1222.1 117.4 1217.3 115.9 1214.7 116.1C1212.1 116.2 1209.5 117.9 1209.5 119.0C1209.5 120.0 1212.7 121.4 1214.7 122.4C1216.7 123.4 1220.7 123.9 1221.6 125.0C1222.4 126.1 1221.6 128.2 1219.8 129.3C1218.1 130.4 1213.8 130.6 1211.3 131.9C1208.7 133.2 1207.2 135.9 1204.4 137.0C1201.5 138.2 1197.2 137.9 1194.1 138.8C1190.9 139.6 1187.2 140.8 1185.5 142.2C1183.8 143.6 1182.9 145.7 1183.8 147.3C1184.6 149.0 1189.5 151.2 1190.6 152.0 M1106.4 150.8C1107.6 149.6 1109.6 145.2 1113.3 143.9C1117.0 142.6 1124.2 142.8 1128.8 143.0C1133.3 143.3 1137.1 145.8 1140.8 145.6C1144.5 145.5 1149.7 143.9 1151.1 142.2C1152.5 140.5 1148.2 137.0 1149.4 135.3C1150.5 133.6 1155.1 132.0 1158.0 131.9C1160.8 131.7 1164.6 135.0 1166.6 134.5C1168.6 133.9 1168.6 128.6 1170.0 128.4C1171.4 128.3 1174.6 131.3 1175.2 133.6C1175.7 135.9 1174.3 139.3 1173.4 142.2C1172.6 145.1 1170.6 149.4 1170.0 150.8 M36.0 148.0C34.7 147.3 30.0 145.7 28.0 144.0C26.0 142.3 23.7 140.0 24.0 138.0C24.3 136.0 27.3 133.7 30.0 132.0C32.7 130.3 36.3 129.7 40.0 128.0C43.7 126.3 51.2 123.3 52.0 122.0C52.8 120.7 45.7 121.0 45.0 120.0C44.3 119.0 45.5 117.3 48.0 116.0C50.5 114.7 56.3 113.3 60.0 112.0C63.7 110.7 68.7 109.3 70.0 108.0C71.3 106.7 66.3 105.5 68.0 104.0C69.7 102.5 75.3 100.2 80.0 99.0C84.7 97.8 90.7 97.7 96.0 97.0C101.3 96.3 106.7 95.2 112.0 95.0C117.3 94.8 123.3 95.5 128.0 96.0C132.7 96.5 136.0 97.5 140.0 98.0C144.0 98.5 148.0 99.0 152.0 99.0C156.0 99.0 159.3 98.3 164.0 98.0C168.7 97.7 174.0 97.3 180.0 97.0C186.0 96.7 193.3 96.8 200.0 96.0C206.7 95.2 214.0 93.7 220.0 92.0C226.0 90.3 231.3 88.3 236.0 86.0C240.7 83.7 246.0 79.3 248.0 78.0 M152.0 100.0C150.0 102.3 144.0 109.7 140.0 114.0C136.0 118.3 132.0 122.3 128.0 126.0C124.0 129.7 119.0 133.8 116.0 136.0C113.0 138.2 109.3 138.3 110.0 139.0C110.7 139.7 117.7 138.8 120.0 140.0C122.3 141.2 123.7 144.0 124.0 146.0C124.3 148.0 122.3 151.0 122.0 152.0 M66.0 139.0C67.7 138.5 72.7 136.7 76.0 136.0C79.3 135.3 82.7 134.7 86.0 135.0C89.3 135.3 92.0 137.3 96.0 138.0C100.0 138.7 107.7 138.8 110.0 139.0 M335.0 115.0C332.1 115.8 321.2 118.3 317.5 120.0C313.8 121.7 316.2 123.3 312.5 125.0C308.8 126.7 300.8 127.9 295.0 130.0C289.2 132.1 282.1 134.6 277.5 137.5C272.9 140.4 268.8 144.2 267.5 147.5C266.2 150.8 267.9 155.0 270.0 157.5C272.1 160.0 276.7 162.5 280.0 162.5C283.3 162.5 287.1 160.0 290.0 157.5C292.9 155.0 295.0 148.8 297.5 147.5C300.0 146.2 302.5 147.5 305.0 150.0C307.5 152.5 309.2 163.3 312.5 162.5C315.8 161.7 322.1 150.0 325.0 145.0C327.9 140.0 327.5 135.4 330.0 132.5C332.5 129.6 335.8 127.5 340.0 127.5C344.2 127.5 351.7 130.0 355.0 132.5C358.3 135.0 357.5 141.2 360.0 142.5C362.5 143.8 366.7 138.8 370.0 140.0C373.3 141.2 376.7 146.2 380.0 150.0C383.3 153.8 387.9 158.3 390.0 162.5C392.1 166.7 392.5 171.2 392.5 175.0C392.5 178.8 391.2 181.7 390.0 185.0C388.8 188.3 388.3 192.9 385.0 195.0C381.7 197.1 375.0 195.8 370.0 197.5C365.0 199.2 358.3 202.9 355.0 205.0C351.7 207.1 352.9 207.9 350.0 210.0C347.1 212.1 340.8 217.1 337.5 217.5C334.2 217.9 330.4 215.0 330.0 212.5C329.6 210.0 332.5 204.6 335.0 202.5C337.5 200.4 343.3 200.4 345.0 200.0 M380.0 185.0C382.5 182.9 390.0 180.8 392.5 182.5C395.0 184.2 396.2 192.1 395.0 195.0C393.8 197.9 387.9 200.0 385.0 200.0C382.1 200.0 378.3 197.5 377.5 195.0C376.7 192.5 377.5 187.1 380.0 185.0Z M330.0 212.5C327.9 213.8 321.7 217.1 317.5 220.0C313.3 222.9 308.8 226.7 305.0 230.0C301.2 233.3 298.3 236.7 295.0 240.0C291.7 243.3 287.5 246.7 285.0 250.0C282.5 253.3 282.9 256.2 280.0 260.0C277.1 263.8 271.2 269.2 267.5 272.5C263.8 275.8 261.2 277.1 257.5 280.0C253.8 282.9 247.1 288.3 245.0 290.0 M247.5 217.5C247.1 214.2 251.7 211.7 255.0 210.0C258.3 208.3 264.2 206.7 267.5 207.5C270.8 208.3 275.0 212.1 275.0 215.0C275.0 217.9 270.4 222.5 267.5 225.0C264.6 227.5 260.8 231.2 257.5 230.0C254.2 228.8 247.9 220.8 247.5 217.5Z M280.0 210.0C280.0 208.3 290.8 207.1 295.0 207.5C299.2 207.9 305.0 210.8 305.0 212.5C305.0 214.2 299.2 217.9 295.0 217.5C290.8 217.1 280.0 211.7 280.0 210.0Z M347.5 117.5C347.1 115.4 355.4 112.5 360.0 112.5C364.6 112.5 370.8 115.0 375.0 117.5C379.2 120.0 385.0 125.4 385.0 127.5C385.0 129.6 378.8 130.4 375.0 130.0C371.2 129.6 367.1 127.1 362.5 125.0C357.9 122.9 347.9 119.6 347.5 117.5Z" fill="none" stroke="#b2cbd7" stroke-width="1" stroke-linejoin="round" stroke-linecap="round"/></svg>
<div class="abs" id="pl"></div>
<div class="abs" id="pr"></div>

<div id="title">
<span class="tw g" id="w1" style="left:9.50px;top:13.40px;letter-spacing:0.600px;">Global</span>
<span class="tw " id="w2" style="left:161.50px;top:13.10px;letter-spacing:0.260px;">Marine</span>
<span class="tw " id="w3" style="left:317.80px;top:13.10px;letter-spacing:-0.600px;">Applications</span>
<span class="tw " id="w4" style="left:588.00px;top:13.10px;letter-spacing:-0.754px;">Predictive</span>
<span class="tw " id="w5" style="left:9.00px;top:63.90px;letter-spacing:0.900px;">Maintenance</span>
<span class="tw " id="w6" style="left:298.00px;top:63.90px;letter-spacing:0.520px;">Market</span>
<span class="tw g" id="w7" style="left:457.00px;top:63.90px;letter-spacing:-1.767px;">2018</span>
<span class="tw g" id="w8" style="left:562.00px;top:63.90px;letter-spacing:-0.600px;">to</span>
<span class="tw g" id="w9" style="left:617.40px;top:63.90px;letter-spacing:-2.167px;">2032</span>
</div>

<!-- logo -->
<svg class="abs" style="left:1038px;top:30px" width="40" height="40" viewBox="0 0 40 40">
  <defs><clipPath id="lc"><circle cx="19" cy="19.3" r="11.7"/></clipPath></defs>
  <path d="M19 4 A15.3 15.3 0 1 1 8.4 30.3 L4.1 33.6 L3.7 19.3 A15.3 15.3 0 0 1 19 4 Z" fill="#586c82"/>
  <circle cx="19" cy="19.3" r="11.7" fill="#fff"/>
  <g clip-path="url(#lc)">
  <rect x="10.4" y="19.1" width="4.4" height="14" fill="#1fa6c6"/>
  <rect x="17" y="14.1" width="4.1" height="18" fill="#1fa6c6"/>
  <rect x="23.5" y="6" width="3.8" height="26" fill="#586c82"/>
  </g>
</svg>
<div class="t" id="lg1" style="left:1076.90px;top:31.00px;font-size:19.6px;line-height:26px;color:#2ba5b8;letter-spacing:-0.171px;">Credence <span style="color:#5d6f80">Research</span></div>
<div class="t" id="lg2" style="left:1077.40px;top:55.40px;font-size:6px;line-height:8px;font-weight:bold;color:#555;letter-spacing:3.014px;">Actionable Insights Delivered</div>

<!-- left chart titles -->
<div class="t" id="lt1" style="left:149.32px;top:153.00px;font-size:16.6px;line-height:20px;color:#222;letter-spacing:0.108px;">Global Market Size, 2018, 2024, and 2032</div>
<div class="t" id="lt2" style="left:241.16px;top:176.80px;font-size:18px;line-height:22px;font-weight:bold;color:#111;letter-spacing:1.408px;">(USD Million)</div>

<!-- left chart -->
<div class="box" style="left:34px;top:283px;width:539px;height:278px;"></div>
<div class="grid" style="top:298.1px"></div>
<div class="t ax" id="ay0" style="left:45.85px;top:291.40px;line-height:14px;letter-spacing:0px;">2,000.0</div>
<div class="grid" style="top:321.7px"></div>
<div class="t ax" id="ay1" style="left:45.85px;top:315.20px;line-height:14px;letter-spacing:0px;">1,800.0</div>
<div class="grid" style="top:345.3px"></div>
<div class="t ax" id="ay2" style="left:45.85px;top:339.00px;line-height:14px;letter-spacing:0px;">1,600.0</div>
<div class="grid" style="top:368.8px"></div>
<div class="t ax" id="ay3" style="left:45.85px;top:362.00px;line-height:14px;letter-spacing:0px;">1,400.0</div>
<div class="grid" style="top:392.4px"></div>
<div class="t ax" id="ay4" style="left:45.85px;top:385.80px;line-height:14px;letter-spacing:0px;">1,200.0</div>
<div class="grid" style="top:416.0px"></div>
<div class="t ax" id="ay5" style="left:45.85px;top:409.60px;line-height:14px;letter-spacing:0px;">1,000.0</div>
<div class="grid" style="top:439.6px"></div>
<div class="t ax" id="ay6" style="left:56.87px;top:432.40px;line-height:14px;letter-spacing:0px;">800.0</div>
<div class="grid" style="top:463.2px"></div>
<div class="t ax" id="ay7" style="left:56.87px;top:456.20px;line-height:14px;letter-spacing:0px;">600.0</div>
<div class="grid" style="top:486.7px"></div>
<div class="t ax" id="ay8" style="left:56.87px;top:480.20px;line-height:14px;letter-spacing:0px;">400.0</div>
<div class="grid" style="top:510.3px"></div>
<div class="t ax" id="ay9" style="left:56.87px;top:504.00px;line-height:14px;letter-spacing:0px;">200.0</div>
<div class="grid" style="top:533.9px"></div>
<div class="t ax" id="ay10" style="left:75.00px;top:527.40px;line-height:14px;">-</div>
<div class="bar" style="left:139px;top:512.9px;width:75px;height:21.3px;background:#bf9000;"></div>
<div class="bar" style="left:291.2px;top:474px;width:74.8px;height:60.2px;background:#33a3a3;"></div>
<div class="bar" style="left:443.2px;top:314px;width:74.8px;height:220.2px;background:#0782b5;"></div>

<div class="t ax" id="d1" style="left:162.97px;top:493.80px;line-height:14px;color:#404040;letter-spacing:0.050px;">180.0</div>
<div class="t ax" id="d2" style="left:315.18px;top:454.30px;line-height:14px;color:#404040;letter-spacing:-0.025px;">509.2</div>
<div class="t ax" id="d3" style="left:461.57px;top:295.40px;line-height:14px;color:#404040;letter-spacing:-0.048px;">1,863.2</div>
<div class="t" id="x1" style="left:166.21px;top:540.70px;font-size:9.6px;line-height:11px;color:#404040;letter-spacing:-0.100px;">2018</div>
<div class="t" id="x2" style="left:317.82px;top:540.70px;font-size:9.6px;line-height:11px;color:#404040;letter-spacing:0.035px;">2024</div>
<div class="t" id="x3" style="left:469.62px;top:540.70px;font-size:9.6px;line-height:11px;color:#404040;letter-spacing:0.266px;">2032</div>
<!-- right title -->
<div class="t" id="rt" style="left:871.99px;top:153.40px;font-size:21.2px;line-height:26px;font-weight:bold;color:#111;letter-spacing:0.118px;">CAGR by Region, %</div>

<!-- right chart -->
<div class="box" style="left:698px;top:279px;width:551px;height:272px;"></div>
<div class="bar" style="left:713px;top:301.2px;width:276px;height:19.5px;background:#6dd0f8;"></div>
<div class="bar" style="left:713px;top:336.4px;width:358px;height:19.5px;background:#173a4a;"></div>
<div class="bar" style="left:713px;top:372.1px;width:355px;height:19.5px;background:#bf9000;"></div>
<div class="bar" style="left:713px;top:407.2px;width:436px;height:19.5px;background:#0782b5;"></div>
<div class="bar" style="left:713px;top:442.3px;width:178px;height:19.5px;background:#33a3a3;"></div>
<div class="bar" style="left:713px;top:478.0px;width:189px;height:19.5px;background:#2f7a9b;"></div>
<div class="t ax" id="r1" style="left:997.60px;top:305.00px;line-height:14px;color:#505050;letter-spacing:-0.675px;">17.6%</div>
<div class="t ax" id="r2" style="left:1079.60px;top:340.30px;line-height:14px;color:#505050;letter-spacing:-0.875px;">18.1%</div>
<div class="t ax" id="r3" style="left:1076.00px;top:375.40px;line-height:14px;color:#505050;letter-spacing:-0.450px;">18.0%</div>
<div class="t ax" id="r4" style="left:1157.00px;top:411.60px;line-height:14px;color:#505050;letter-spacing:-0.625px;">18.5%</div>
<div class="t ax" id="r5" style="left:899.40px;top:446.20px;line-height:14px;color:#505050;letter-spacing:-0.775px;">17.0%</div>
<div class="t ax" id="r6" style="left:910.80px;top:481.80px;line-height:14px;color:#505050;letter-spacing:-0.875px;">17.1%</div>
<div class="bar" style="left:736.4px;top:528px;width:6px;height:6px;background:#2f7a9b;"></div>
<div class="t ax" id="l1" style="left:745.00px;top:524.10px;line-height:14px;color:#505050;letter-spacing:0.525px;">North America</div>
<div class="bar" style="left:840px;top:528px;width:6px;height:6px;background:#33a3a3;"></div>
<div class="t ax" id="l2" style="left:848.20px;top:524.10px;line-height:14px;color:#505050;letter-spacing:0.420px;">Europe</div>
<div class="bar" style="left:899.3px;top:528px;width:6px;height:6px;background:#0782b5;"></div>
<div class="t ax" id="l3" style="left:909.80px;top:524.10px;line-height:14px;color:#505050;letter-spacing:0.248px;">Asia Pacific</div>
<div class="bar" style="left:985.8px;top:528px;width:6px;height:6px;background:#bf9000;"></div>
<div class="t ax" id="l4" style="left:994.80px;top:524.10px;line-height:14px;color:#505050;letter-spacing:0.491px;">Latin America</div>
<div class="bar" style="left:1086.1px;top:528px;width:6px;height:6px;background:#173a4a;"></div>
<div class="t ax" id="l5" style="left:1095.00px;top:524.10px;line-height:14px;color:#505050;letter-spacing:0.250px;">Middle East</div>
<div class="bar" style="left:1171.4px;top:528px;width:6px;height:6px;background:#6dd0f8;"></div>
<div class="t ax" id="l6" style="left:1180.40px;top:524.10px;line-height:14px;color:#505050;letter-spacing:0.320px;">Africa</div>
</body></html>
